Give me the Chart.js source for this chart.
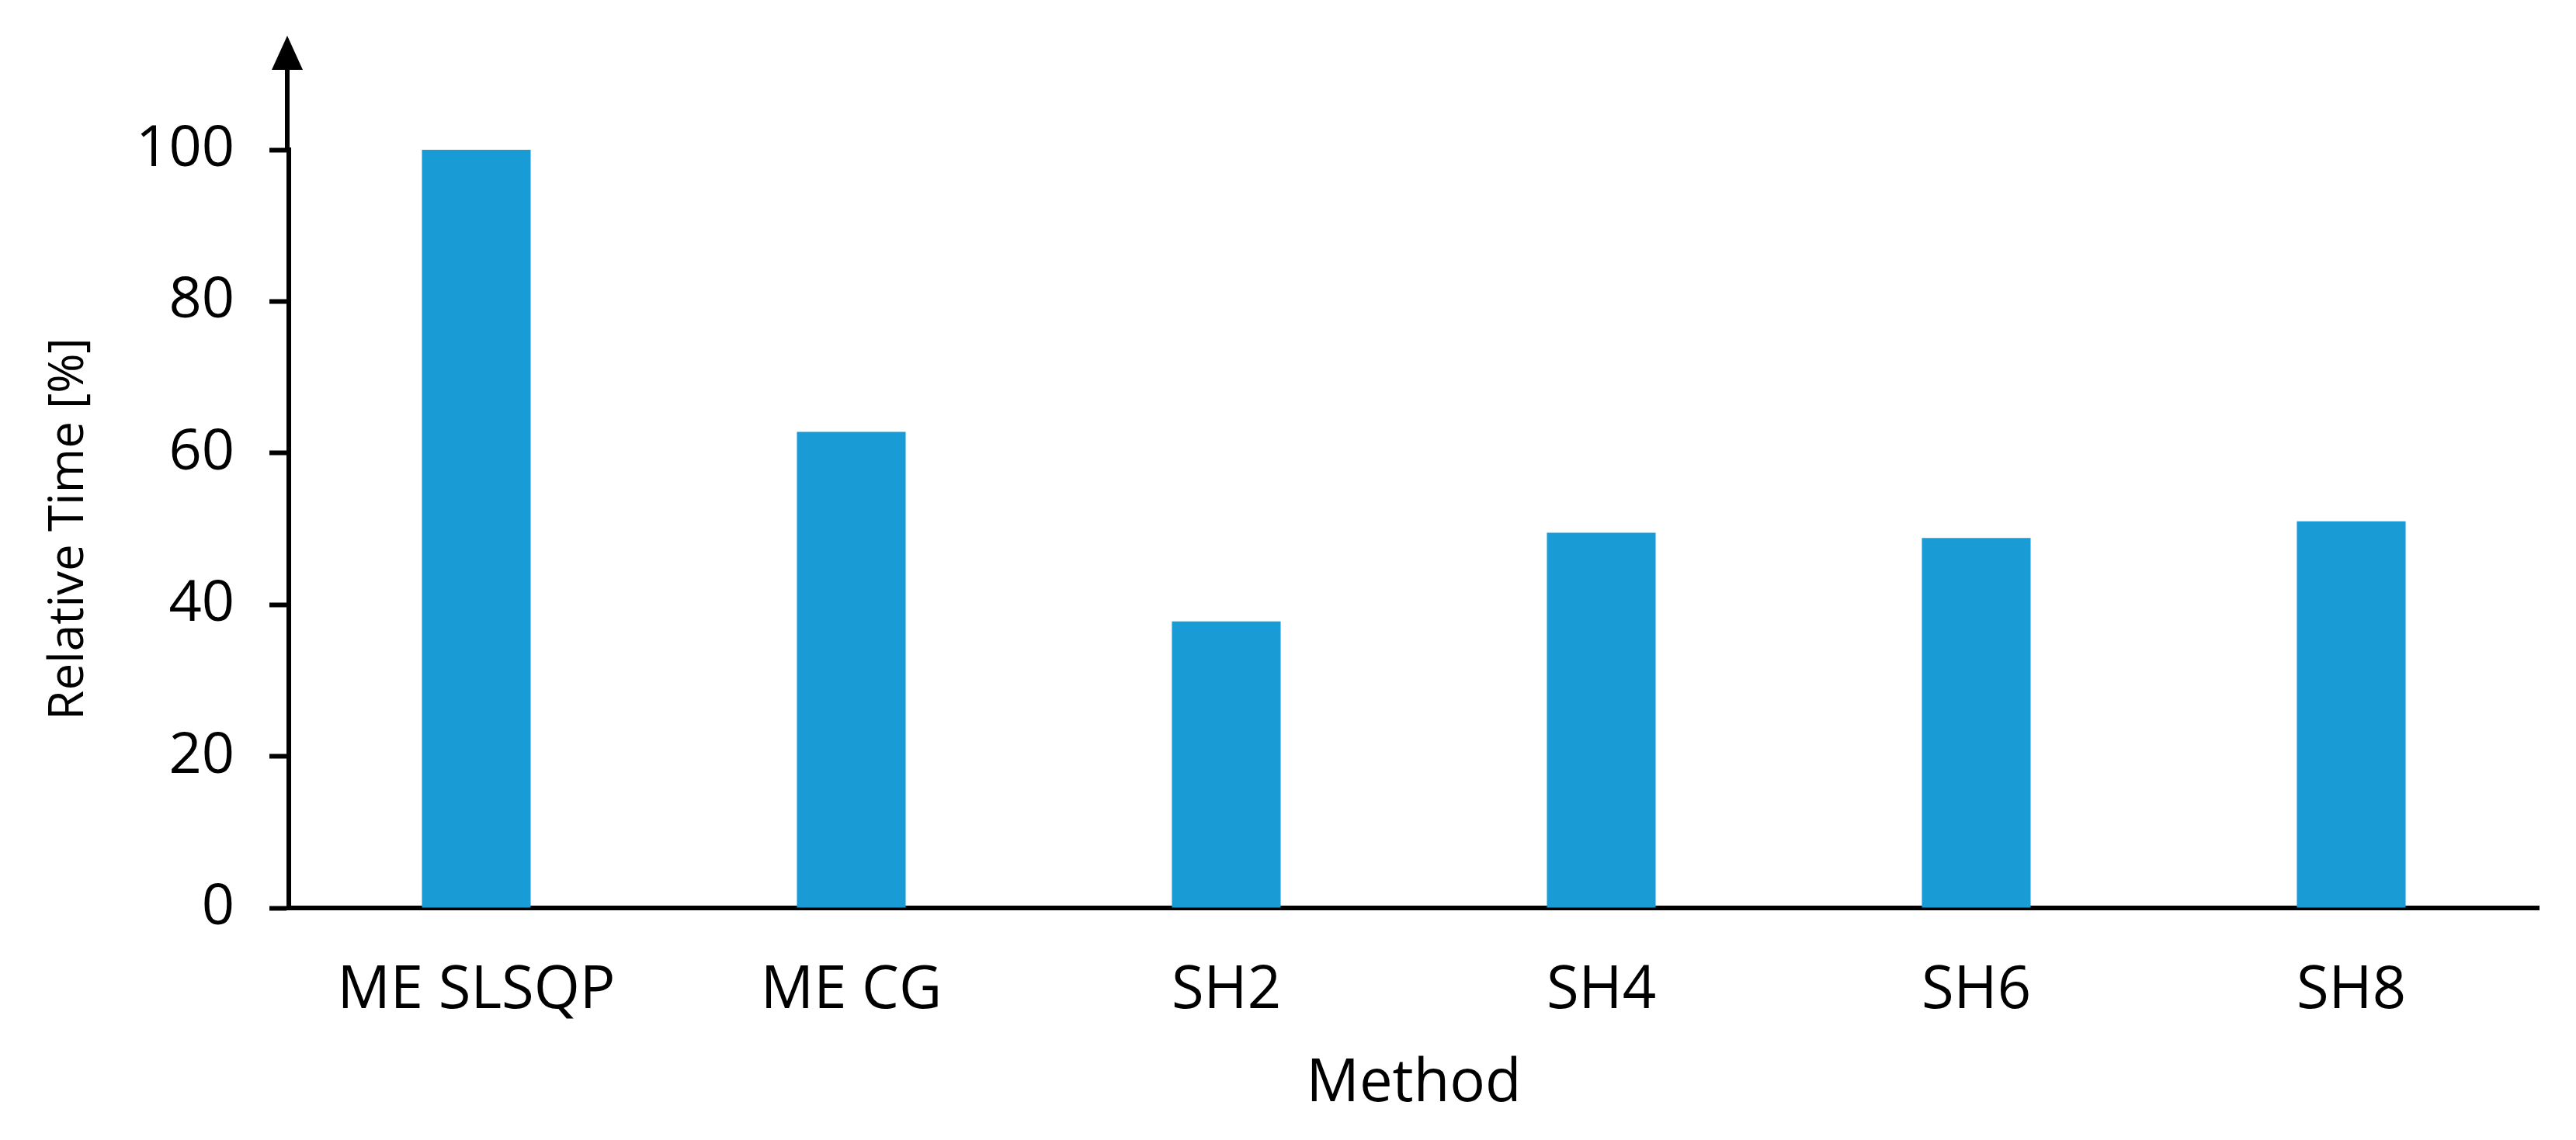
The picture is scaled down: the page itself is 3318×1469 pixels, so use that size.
<!DOCTYPE html>
<html>
<head>
<meta charset="utf-8">
<script src="https://cdn.jsdelivr.net/npm/chart.js@4/dist/chart.umd.min.js"></script>
<style>
  html, body { margin: 0; padding: 0; background: #fff; }
  #wrap { width: 3318px; height: 1469px; }
</style>
</head>
<body>
<div id="wrap"><canvas id="myChart" width="3318" height="1469"></canvas></div>
<script>
// values
const methods = ["ME SLSQP", "ME CG", "SH2", "SH4", "SH6", "SH8"];
const relativeTime = [100, 62.8, 37.8, 49.5, 48.8, 51];
const yTicks = [0, 20, 40, 60, 80, 100];

const FONT = "'Open Sans', 'Noto Sans', sans-serif";
const BLUE = "#199bd6";

// draws the upward arrow on top of the y axis
const axisArrow = {
    id: "axisArrow",
    afterDraw(chart) {
        const ctx = chart.ctx;
        const x = chart.scales.y.right - 2;
        const top = chart.chartArea.top;
        ctx.save();
        ctx.strokeStyle = "#000";
        ctx.fillStyle = "#000";
        ctx.lineWidth = 6;
        ctx.beginPath();
        ctx.moveTo(x, top);
        ctx.lineTo(x, 86);
        ctx.stroke();
        ctx.beginPath();
        ctx.moveTo(x, 46);
        ctx.lineTo(x - 20, 90);
        ctx.lineTo(x + 20, 90);
        ctx.closePath();
        ctx.fill();
        ctx.restore();
    }
};

const ctx = document.getElementById("myChart").getContext("2d");
new Chart(ctx, {
    type: "bar",
    data: {
        labels: methods,
        datasets: [
            {
                label: "Relative Time",
                data: relativeTime,
                backgroundColor: BLUE,
                borderWidth: 0,
                categoryPercentage: 1,
                barPercentage: 0.29,
            },
        ],
    },
    options: {
        responsive: false,
        animation: false,
        layout: { padding: { top: 193, right: 48, left: 0, bottom: 0 } },
        plugins: {
            legend: { display: false },
            tooltip: { enabled: false },
        },
        scales: {
            x: {
                z: 1,
                grid: { display: false, drawTicks: false },
                border: { display: true, color: "#000", width: 6 },
                ticks: {
                    color: "#000",
                    font: { family: FONT, size: 76 },
                    padding: 62,
                    maxRotation: 0,
                },
                title: {
                    display: true,
                    text: "Method",
                    color: "#000",
                    font: { family: FONT, size: 76 },
                    padding: { top: 0, bottom: 26 },
                },
                afterFit(scale) { scale.height = 299; },
            },
            y: {
                min: 0,
                max: 100,
                afterBuildTicks(scale) {
                    scale.ticks = yTicks.map(v => ({ value: v }));
                },
                grid: {
                    drawOnChartArea: false,
                    drawTicks: true,
                    tickLength: 25,
                    tickWidth: 6,
                    tickColor: "#000",
                },
                border: { display: true, color: "#000", width: 6 },
                ticks: {
                    color: "#000",
                    font: { family: FONT, size: 74 },
                    padding: 45,
                },
                title: {
                    display: true,
                    text: "Relative Time [%]",
                    color: "#000",
                    font: { family: FONT, size: 62 },
                    padding: { top: 52, bottom: 0 },
                },
                afterFit(scale) { scale.width = 372; },
            },
        },
    },
    plugins: [axisArrow],
});
</script>
</body>
</html>
